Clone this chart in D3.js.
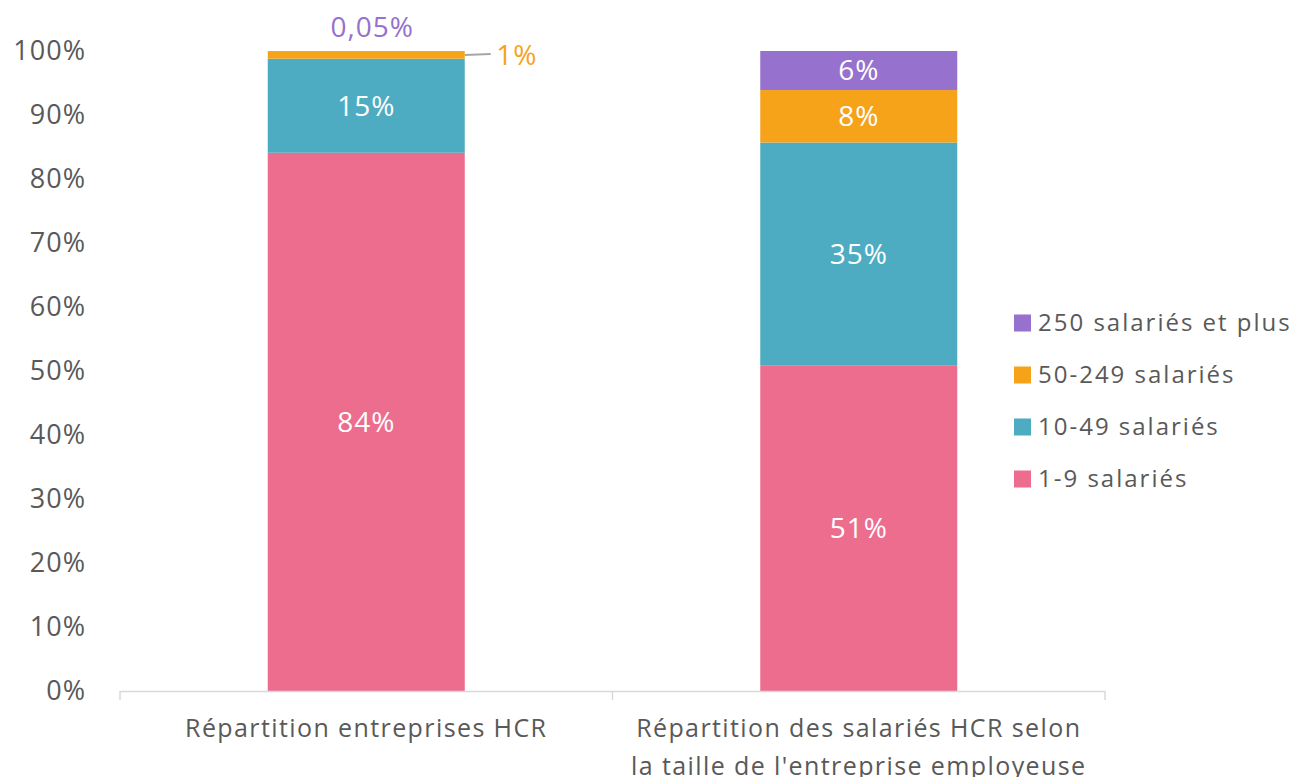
<!DOCTYPE html>
<html>
<head>
<meta charset="utf-8">
<script src="https://cdn.jsdelivr.net/npm/d3@7"></script>
<style>
  body { margin: 0; background: #fff; }
  svg text { font-family: "Open Sans", "Noto Sans", sans-serif; }
</style>
</head>
<body>
<div id="chart"></div>
<script>
// data
var categories = ["Répartition entreprises HCR", "Répartition des salariés HCR selon|la taille de l'entreprise employeuse"];
var seriesNames = ["1-9 salariés", "10-49 salariés", "50-249 salariés", "250 salariés et plus"];
var seriesValues = [
    [84.1, 50.9],
    [14.7, 34.8],
    [1.15, 8.2],
    [0.05, 6.1]
];
var seriesLabels = [
    ["84%", "51%"],
    ["15%", "35%"],
    ["1%", "8%"],
    ["0,05%", "6%"]
];
var yTicks = [0, 10, 20, 30, 40, 50, 60, 70, 80, 90, 100];
var colors = ["#ED6D8F", "#4DACC1", "#F6A31A", "#9671CD"];

var width = 1297, height = 777;
var plot = { left: 120, right: 1105, top: 51, bottom: 691 };

var svg = d3.select("#chart").append("svg")
    .attr("width", width)
    .attr("height", height);

var x = d3.scaleBand()
    .domain(categories)
    .range([plot.left, plot.right])
    .padding(0);

var y = d3.scaleLinear()
    .domain([0, 100])
    .range([plot.bottom, plot.top]);

var barW = x.bandwidth() * 0.4;

// stack
var rows = categories.map(function (c, i) {
    var r = { cat: c };
    seriesNames.forEach(function (s, j) { r[s] = seriesValues[j][i]; });
    return r;
});
var stacked = d3.stack().keys(seriesNames)(rows);

var textColor = "#595959";

// y tick labels
svg.append("g").selectAll("text")
    .data(yTicks).enter()
    .append("text")
    .attr("x", 86)
    .attr("y", function (d) { return y(d); })
    .attr("dy", "0.35em")
    .attr("text-anchor", "end")
    .style("font-size", "27px")
    .style("letter-spacing", "1px")
    .style("fill", textColor)
    .text(function (d) { return d + "%"; });

// bars
stacked.forEach(function (layer, j) {
    svg.append("g").selectAll("rect")
        .data(layer).enter()
        .append("rect")
        .attr("x", function (d) { return x(d.data.cat) + (x.bandwidth() - barW) / 2; })
        .attr("y", function (d) { return y(d[1]); })
        .attr("width", barW)
        .attr("height", function (d) { return y(d[0]) - y(d[1]); })
        .style("fill", colors[j]);
});

// x axis
svg.append("line")
    .attr("x1", plot.left).attr("x2", plot.right)
    .attr("y1", plot.bottom + 0.5).attr("y2", plot.bottom + 0.5)
    .style("stroke", "#d9d9d9").style("stroke-width", 1.5);
svg.append("g").selectAll("line")
    .data([plot.left, plot.left + x.bandwidth(), plot.right]).enter()
    .append("line")
    .attr("x1", function (d) { return d; }).attr("x2", function (d) { return d; })
    .attr("y1", plot.bottom).attr("y2", plot.bottom + 9)
    .style("stroke", "#d9d9d9").style("stroke-width", 1.5);

// category labels
categories.forEach(function (c) {
    var lines = c.split("|");
    var t = svg.append("text")
        .attr("text-anchor", "middle")
        .style("font-size", "25px")
        .style("font-weight", "500")
        .style("letter-spacing", "1.4px")
        .style("fill", textColor);
    lines.forEach(function (l, k) {
        t.append("tspan")
            .attr("x", x(c) + x.bandwidth() / 2)
            .attr("y", 737 + k * 38)
            .text(l);
    });
});

// data labels inside bars
stacked.forEach(function (layer, j) {
    layer.forEach(function (d, i) {
        var cx = x(d.data.cat) + x.bandwidth() / 2;
        var lab = seriesLabels[j][i];
        if (y(d[0]) - y(d[1]) > 20) {
            svg.append("text")
                .attr("x", cx)
                .attr("y", (y(d[0]) + y(d[1])) / 2)
                .attr("dy", "0.35em")
                .attr("text-anchor", "middle")
                .style("font-size", "28px")
                .style("font-weight", "500")
                .style("letter-spacing", "1px")
                .style("fill", "#fff")
                .text(lab);
        }
    });
});

// small segments of first bar: outside labels
var c0 = categories[0];
var barRight = x(c0) + (x.bandwidth() + barW) / 2;
var orange = stacked[2][0];
var oy = (y(orange[0]) + y(orange[1])) / 2;
svg.append("line")
    .attr("x1", barRight).attr("x2", barRight + 26)
    .attr("y1", oy).attr("y2", oy - 1)
    .style("stroke", "#a6a6a6").style("stroke-width", 2);
svg.append("text")
    .attr("x", barRight + 52)
    .attr("y", oy)
    .attr("dy", "0.35em")
    .attr("text-anchor", "middle")
    .style("font-size", "28px")
    .style("font-weight", "500")
    .style("letter-spacing", "1px")
    .style("fill", colors[2])
    .text(seriesLabels[2][0]);
svg.append("text")
    .attr("x", x(c0) + x.bandwidth() / 2 + 6)
    .attr("y", y(stacked[3][0][1]) - 24)
    .attr("dy", "0.35em")
    .attr("text-anchor", "middle")
    .style("font-size", "28px")
    .style("font-weight", "500")
    .style("letter-spacing", "1px")
    .style("fill", colors[3])
    .text(seriesLabels[3][0]);

// legend
var legend = svg.append("g").selectAll("g")
    .data(seriesNames.slice().reverse()).enter()
    .append("g")
    .attr("transform", function (d, i) { return "translate(1014," + (323 + i * 52) + ")"; });
legend.append("rect")
    .attr("x", 0).attr("y", -8.5)
    .attr("width", 17).attr("height", 17)
    .style("fill", function (d) { return colors[seriesNames.indexOf(d)]; });
legend.append("text")
    .attr("x", 24)
    .attr("y", 0)
    .attr("dy", "0.35em")
    .style("font-size", "24px")
    .style("letter-spacing", "2px")
    .style("fill", textColor)
    .text(function (d) { return d; });
</script>
</body>
</html>
